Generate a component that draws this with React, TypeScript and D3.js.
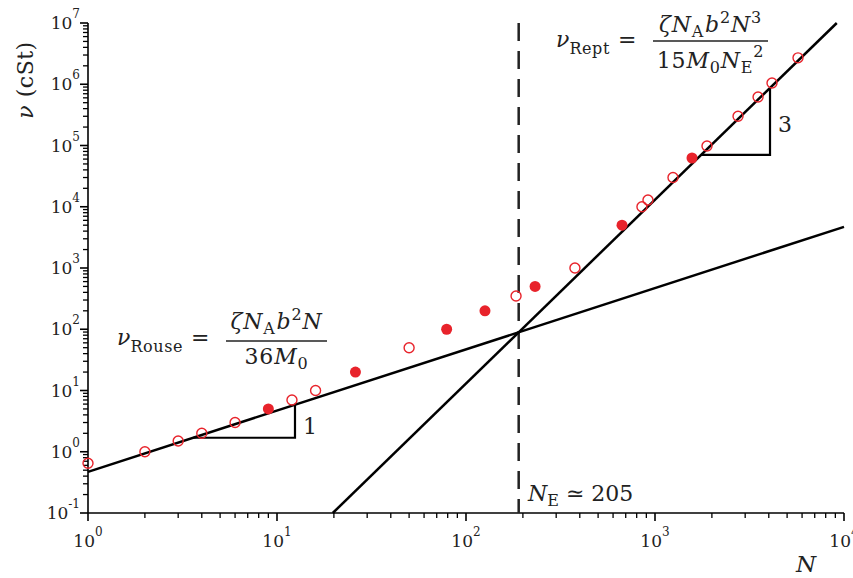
import React from "react";
import * as d3 from "d3";

const W = 853;
const H = 578;

// open-circle data (N, viscosity cSt)
const openN = [1, 2, 3, 4, 6, 12, 16, 50, 184, 377, 853, 918, 1245, 1884, 2750, 3510, 4160, 5710];
const openNu = [0.65, 1.0, 1.5, 2.0, 3.0, 7.0, 10, 50, 350, 1000, 10000, 12900, 30000, 98000, 300000, 620000, 1050000, 2700000];
// filled-circle data
const filledN = [9, 26, 79, 126, 232, 669, 1570];
const filledNu = [5.0, 20, 100, 200, 500, 5000, 62500];

const xDecades = [0, 1, 2, 3, 4];
const yDecades = [-1, 0, 1, 2, 3, 4, 5, 6, 7];

const rouseCoef = 0.47; // nu = 0.47 N
const NE_line = 190; // crossing / dashed line position
const reptAtNE = rouseCoef * NE_line; // nu = reptAtNE * (N/NE)^3
const rouseTri = [3.6, 12.45];
const reptTri = [1754, 4060];

const RED = "#e8232b";
const FONT = "'DejaVu Serif', serif";

export default function App() {
  const x = d3.scaleLog().domain([1, 1e4]).range([88, 844]);
  const y = d3.scaleLog().domain([0.1, 1e7]).range([513, 23]);

  const rouse = (n: number) => rouseCoef * n;
  const rept = (n: number) => reptAtNE * Math.pow(n / NE_line, 3);

  const line = d3
    .line<[number, number]>()
    .x((d) => x(d[0]))
    .y((d) => y(d[1]));

  const rouseLine = line([
    [1, rouse(1)],
    [1e4, rouse(1e4)],
  ]);
  const nLo = NE_line * Math.cbrt(0.1 / reptAtNE);
  const nHi = NE_line * Math.cbrt(1e7 / reptAtNE);
  const reptLine = line([
    [nLo, rept(nLo)],
    [nHi, rept(nHi)],
  ]);

  const xMinor: number[] = [];
  for (let e = 0; e < 4; e++) for (let k = 2; k <= 9; k++) xMinor.push(k * Math.pow(10, e));
  const yMinor: number[] = [];
  for (let e = -1; e < 7; e++) for (let k = 2; k <= 9; k++) yMinor.push(k * Math.pow(10, e));

  const rt1 = rouseTri;
  const rouseTriPath = line([
    [rt1[0], rouse(rt1[0])],
    [rt1[1], rouse(rt1[0])],
    [rt1[1], rouse(rt1[1])],
  ]);
  const rt2 = reptTri;
  const reptTriPath = line([
    [rt2[0], rept(rt2[0])],
    [rt2[1], rept(rt2[0])],
    [rt2[1], rept(rt2[1])],
  ]);

  const axisY = y(0.1);
  const axisX = x(1);

  return (
    <svg
      width={W}
      height={H}
      style={{ position: "absolute", left: 0, top: 0, background: "#fff" }}
      fontFamily={FONT}
    >
      <rect width={W} height={H} fill="#fff" />
      {/* axes */}
      <line x1={axisX} x2={x(1e4)} y1={axisY} y2={axisY} stroke="#000" strokeWidth={1.6} />
      <line x1={axisX} x2={axisX} y1={y(1e7)} y2={axisY} stroke="#000" strokeWidth={1.6} />
      {xMinor.map((v, i) => (
        <line key={"xm" + i} x1={x(v)} x2={x(v)} y1={axisY} y2={axisY + 5} stroke="#000" strokeWidth={1.3} />
      ))}
      {xDecades.map((e) => (
        <line key={"xM" + e} x1={x(Math.pow(10, e))} x2={x(Math.pow(10, e))} y1={axisY} y2={axisY + 8} stroke="#000" strokeWidth={1.6} />
      ))}
      {yMinor.map((v, i) => (
        <line key={"ym" + i} x1={axisX - 5} x2={axisX} y1={y(v)} y2={y(v)} stroke="#000" strokeWidth={1.3} />
      ))}
      {yDecades.map((e) => (
        <line key={"yM" + e} x1={axisX - 8} x2={axisX} y1={y(Math.pow(10, e))} y2={y(Math.pow(10, e))} stroke="#000" strokeWidth={1.6} />
      ))}
      {/* tick labels */}
      {xDecades.map((e) => (
        <text key={"xl" + e} x={x(Math.pow(10, e))} y={547} textAnchor="middle" fontSize={17} fill="#222">
          10
          <tspan dy={-11} fontSize={12}>{e}</tspan>
        </text>
      ))}
      {yDecades.map((e) => (
        <text key={"yl" + e} x={80} y={y(Math.pow(10, e)) + 6} textAnchor="end" fontSize={17} fill="#222">
          10
          <tspan dy={-11} fontSize={12}>{e}</tspan>
        </text>
      ))}
      {/* axis titles */}
      <text transform="translate(33,80) rotate(-90)" textAnchor="middle" fontSize={22} fill="#222" letterSpacing={0.5}>
        <tspan fontStyle="italic">ν</tspan>  (cSt)
      </text>
      <text x={806} y={572} textAnchor="middle" fontSize={23} fontStyle="italic" fill="#222">
        N
      </text>

      {/* dashed line */}
      <line x1={x(NE_line)} x2={x(NE_line)} y1={y(1e7)} y2={axisY} stroke="#222" strokeWidth={2.5} strokeDasharray="18,10" />

      {/* theory lines */}
      <path d={rouseLine || ""} stroke="#000" strokeWidth={2.5} fill="none" />
      <path d={reptLine || ""} stroke="#000" strokeWidth={2.5} fill="none" />
      <path d={rouseTriPath || ""} stroke="#000" strokeWidth={2.2} fill="none" />
      <path d={reptTriPath || ""} stroke="#000" strokeWidth={2.2} fill="none" />
      <text x={303} y={434} fontSize={22} fill="#222">1</text>
      <text x={778} y={132} fontSize={22} fill="#222">3</text>

      {/* data */}
      {openN.map((n, i) => (
        <circle key={"o" + i} cx={x(n)} cy={y(openNu[i])} r={5} fill="none" stroke={RED} strokeWidth={1.4} />
      ))}
      {filledN.map((n, i) => (
        <circle key={"f" + i} cx={x(n)} cy={y(filledNu[i])} r={5.5} fill={RED} />
      ))}

      {/* Rouse formula */}
      <text x={117} y={345} fontSize={22} fill="#222">
        <tspan fontStyle="italic">ν</tspan>
        <tspan dy={7} fontSize={16} letterSpacing={0.6}>Rouse</tspan>
        <tspan dy={-7} dx={8}>=</tspan>
      </text>
      <line x1={226} x2={327} y1={341} y2={341} stroke="#222" strokeWidth={1.6} />
      <text x={276.5} y={329} textAnchor="middle" fontSize={22} fill="#222" letterSpacing={0.8}>
        <tspan fontStyle="italic">ζN</tspan>
        <tspan dy={5} fontSize={16}>A</tspan>
        <tspan dy={-5} fontStyle="italic" dx={1}>b</tspan>
        <tspan dy={-9} fontSize={16}>2</tspan>
        <tspan dy={9} fontStyle="italic">N</tspan>
      </text>
      <text x={276.5} y={364} textAnchor="middle" fontSize={22} fill="#222" letterSpacing={0.8}>
        36<tspan fontStyle="italic">M</tspan>
        <tspan dy={5} fontSize={16}>0</tspan>
      </text>

      {/* Rept formula */}
      <text x={556} y={47} fontSize={22} fill="#222">
        <tspan fontStyle="italic">ν</tspan>
        <tspan dy={7} fontSize={16} letterSpacing={0.6}>Rept</tspan>
        <tspan dy={-7} dx={8}>=</tspan>
      </text>
      <line x1={653} x2={768} y1={41} y2={41} stroke="#222" strokeWidth={1.6} />
      <text x={710.5} y={32} textAnchor="middle" fontSize={22} fill="#222" letterSpacing={0.8}>
        <tspan fontStyle="italic">ζN</tspan>
        <tspan dy={5} fontSize={16}>A</tspan>
        <tspan dy={-5} fontStyle="italic" dx={1}>b</tspan>
        <tspan dy={-9} fontSize={16}>2</tspan>
        <tspan dy={9} fontStyle="italic">N</tspan>
        <tspan dy={-9} fontSize={16}>3</tspan>
      </text>
      <text x={710.5} y={68} textAnchor="middle" fontSize={22} fill="#222" letterSpacing={0.8}>
        15<tspan fontStyle="italic">M</tspan>
        <tspan dy={5} fontSize={16}>0</tspan>
        <tspan dy={-5} fontStyle="italic">N</tspan>
        <tspan dy={5} fontSize={16}>E</tspan>
        <tspan dy={-16} fontSize={16}>2</tspan>
      </text>

      {/* N_E label */}
      <text x={528} y={501} fontSize={22} fill="#222">
        <tspan fontStyle="italic">N</tspan>
        <tspan dy={5} fontSize={16}>E</tspan>
        <tspan dy={-5}> ≃ 205</tspan>
      </text>
    </svg>
  );
}
